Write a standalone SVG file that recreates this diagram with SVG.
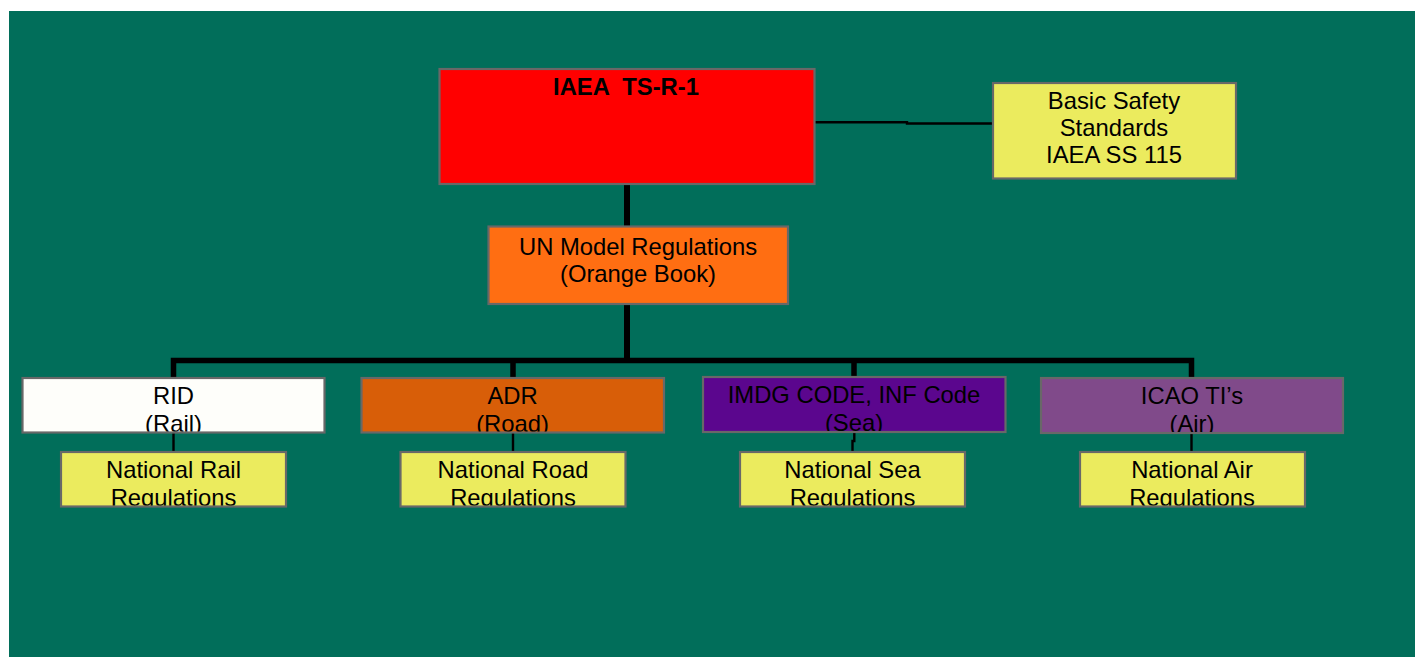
<svg xmlns="http://www.w3.org/2000/svg" width="1415" height="657" viewBox="0 0 1415 657">
<style>
.box{stroke:#686868;stroke-width:2.2}
.t{font-family:"Liberation Sans",Arial,sans-serif;font-size:23.8px;fill:#000;text-anchor:middle}
.b{font-weight:bold}
.thick{fill:none;stroke:#000;stroke-width:5.5;stroke-linejoin:miter}
.thin{fill:none;stroke:#000;stroke-width:2.4}
</style>
<defs>
<clipPath id="c-rid"><rect x="23.5" y="379" width="300" height="52.5"/></clipPath>
<clipPath id="c-adr"><rect x="362.5" y="379" width="300.5" height="52.5"/></clipPath>
<clipPath id="c-imdg"><rect x="704" y="378" width="300.5" height="53"/></clipPath>
<clipPath id="c-icao"><rect x="1042" y="379" width="300" height="53"/></clipPath>
<clipPath id="c-nrail"><rect x="62" y="453" width="223" height="52.5"/></clipPath>
<clipPath id="c-nroad"><rect x="401.5" y="453" width="223" height="52.5"/></clipPath>
<clipPath id="c-nsea"><rect x="741" y="453" width="223" height="52.5"/></clipPath>
<clipPath id="c-nair"><rect x="1081" y="453" width="223" height="52.5"/></clipPath>
</defs>
<rect x="9" y="11" width="1406" height="646" fill="#016E5A"/>

<g id="connectors">
<path class="thick" d="M627 184 V227" style="stroke-width:6"/>
<path class="thick" d="M627 304 V361" style="stroke-width:6"/>
<path class="thick" d="M173.5 378 V360.5 H1191.5 V378"/>
<path class="thick" d="M513 360.5 V378"/>
<path class="thick" d="M854 360.5 V377"/>
<path class="thin" d="M815 122.3 H907 V123.5 H993"/>
<path class="thin" d="M173.5 432 V452"/>
<path class="thin" d="M513 432 V452"/>
<path class="thin" d="M854.3 432 V441 H852.5 V452"/>
<path class="thin" d="M1191.5 433 V452"/>
</g>

<g id="iaea">
<rect class="box" x="439.5" y="69" width="375" height="115" fill="#FF0000"/>
<text class="t b" x="626" y="95" xml:space="preserve">IAEA  TS-R-1</text>
</g>

<g id="bss">
<rect class="box" x="993" y="83" width="243" height="95.5" fill="#EBEB5E"/>
<text class="t" x="1114" y="109">Basic Safety</text>
<text class="t" x="1114" y="136">Standards</text>
<text class="t" x="1114" y="162.7">IAEA SS 115</text>
</g>

<g id="un">
<rect class="box" x="488.5" y="226.5" width="299.5" height="77.5" fill="#FF6E12"/>
<text class="t" x="638" y="255">UN Model Regulations</text>
<text class="t" x="638" y="281.7">(Orange Book)</text>
</g>

<g id="rid">
<rect class="box" x="22.5" y="378" width="302" height="54.5" fill="#FEFEFA"/>
<g clip-path="url(#c-rid)">
<text class="t" x="173.5" y="404">RID</text>
<text class="t" x="173.5" y="431.5">(Rail)</text>
</g>
</g>

<g id="adr">
<rect class="box" x="361.5" y="378" width="302.5" height="54.5" fill="#D85E08"/>
<g clip-path="url(#c-adr)">
<text class="t" x="512.5" y="404">ADR</text>
<text class="t" x="512.5" y="431.5">(Road)</text>
</g>
</g>

<g id="imdg">
<rect class="box" x="703" y="377" width="302.5" height="55" fill="#5B068E"/>
<g clip-path="url(#c-imdg)">
<text class="t" x="854" y="403">IMDG CODE, INF Code</text>
<text class="t" x="854" y="431">(Sea)</text>
</g>
</g>

<g id="icao">
<rect class="box" x="1041" y="378" width="302" height="55" fill="#804A8A"/>
<g clip-path="url(#c-icao)">
<text class="t" x="1192" y="404">ICAO TI’s</text>
<text class="t" x="1192" y="431.5">(Air)</text>
</g>
</g>

<g id="nat-rail">
<rect class="box" x="61" y="452" width="225" height="54.5" fill="#EBEB5E"/>
<g clip-path="url(#c-nrail)">
<text class="t" x="173.5" y="478">National Rail</text>
<text class="t" x="173.5" y="505.5">Regulations</text>
</g>
</g>

<g id="nat-road">
<rect class="box" x="400.5" y="452" width="225" height="54.5" fill="#EBEB5E"/>
<g clip-path="url(#c-nroad)">
<text class="t" x="513" y="478">National Road</text>
<text class="t" x="513" y="505.5">Regulations</text>
</g>
</g>

<g id="nat-sea">
<rect class="box" x="740" y="452" width="225" height="54.5" fill="#EBEB5E"/>
<g clip-path="url(#c-nsea)">
<text class="t" x="852.5" y="478">National Sea</text>
<text class="t" x="852.5" y="505.5">Regulations</text>
</g>
</g>

<g id="nat-air">
<rect class="box" x="1080" y="452" width="225" height="54.5" fill="#EBEB5E"/>
<g clip-path="url(#c-nair)">
<text class="t" x="1192" y="478">National Air</text>
<text class="t" x="1192" y="505.5">Regulations</text>
</g>
</g>
</svg>
